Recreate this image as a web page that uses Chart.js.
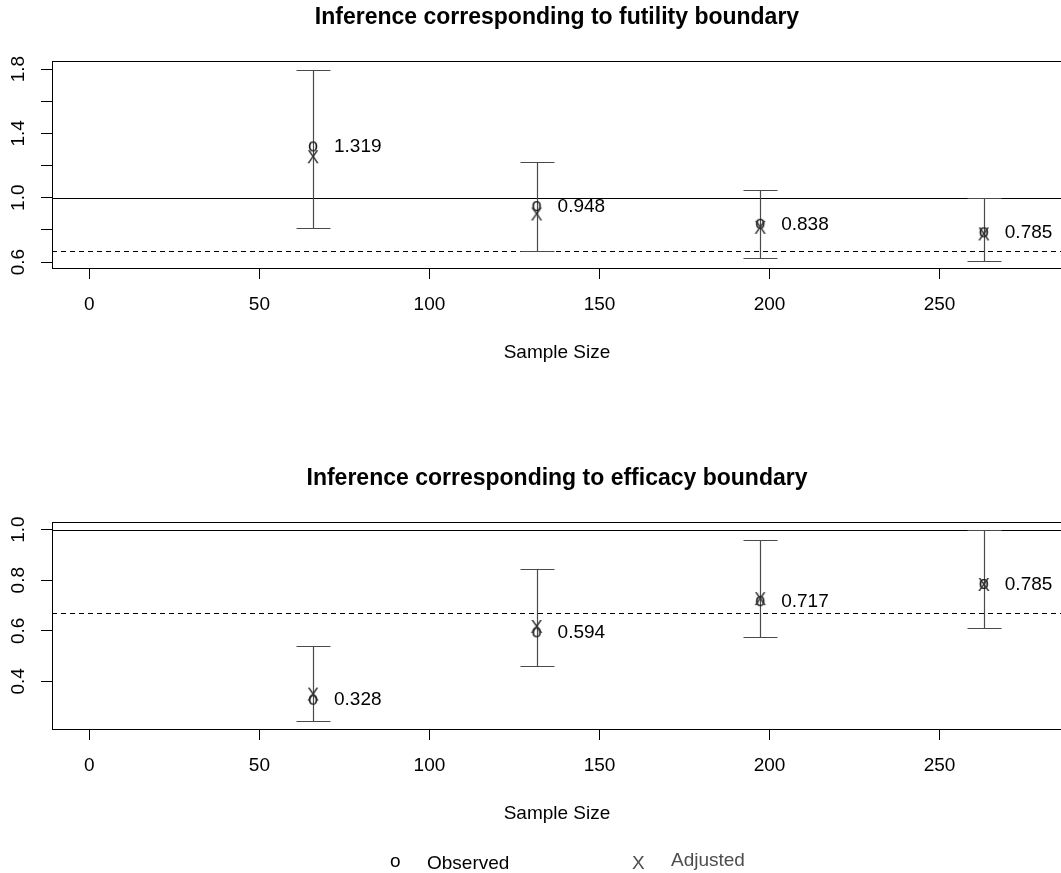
<!DOCTYPE html>
<html>
<head>
<meta charset="utf-8">
<title>Inference at interim boundaries</title>
<script src="https://cdn.jsdelivr.net/npm/chart.js@4/dist/chart.umd.min.js"></script>
<style>
  html, body { margin: 0; padding: 0; background: #fff; overflow: hidden; width: 1061px; height: 873px; }
  #wrap { position: relative; width: 1061px; height: 873px; overflow: hidden; }
  canvas { position: absolute; left: 0; }
  #futility { top: 0; }
  #efficacy { top: 436px; }
  .lg { position: absolute; font: 19px "Liberation Sans", Arial, Helvetica, sans-serif; line-height: 22px; white-space: nowrap; color: #000; }
  .lg.adj { color: #4d4d4d; }
</style>
</head>
<body>
<div id="wrap">
  <canvas id="futility" width="1070" height="436"></canvas>
  <canvas id="efficacy" width="1070" height="437"></canvas>
  <span class="lg" style="left:390px; top:850px;">o</span>
  <span class="lg" style="left:427px; top:852px;">Observed</span>
  <span class="lg adj" style="left:632px; top:852px;">X</span>
  <span class="lg adj" style="left:671px; top:849px;">Adjusted</span>
</div>
<script>
// Sample size at each analysis
const sampleSizes = [65.75, 131.5, 197.25, 263];

// Futility boundary: observed / adjusted estimates and interval limits
const futObserved = [1.319, 0.948, 0.838, 0.785];
const futAdjusted = [1.255, 0.899, 0.816, 0.775];
const futLower    = [0.810, 0.668, 0.623, 0.608];
const futUpper    = [1.795, 1.224, 1.050, 1.000];

// Efficacy boundary: observed / adjusted estimates and interval limits
const effObserved = [0.328, 0.594, 0.717, 0.785];
const effAdjusted = [0.350, 0.617, 0.727, 0.783];
const effLower    = [0.242, 0.462, 0.576, 0.611];
const effUpper    = [0.538, 0.843, 0.958, 1.000];

// Reference values
const nullValue = 1.0;
const thresholdValue = 0.67;

// Axis ticks
const xTicks = [0, 50, 100, 150, 200, 250];
const futYTicks = [0.6, 0.8, 1.0, 1.2, 1.4, 1.6, 1.8];
const futYLabels = [0.6, 1.0, 1.4, 1.8];
const effYTicks = [0.4, 0.6, 0.8, 1.0];
const effYLabels = [0.4, 0.6, 0.8, 1.0];

const FAMILY = '"Liberation Sans", Arial, Helvetica, sans-serif';
const BAR_COLOR = '#4a4a4a';

// Render a character as a point marker image, with its ink centred
function glyph(ch, color, size) {
  const c = document.createElement('canvas');
  let g = c.getContext('2d');
  const font = size + 'px ' + FAMILY;
  g.font = font;
  const m = g.measureText(ch);
  const w = Math.ceil(m.actualBoundingBoxLeft + m.actualBoundingBoxRight) + 2;
  const h = Math.ceil(m.actualBoundingBoxAscent + m.actualBoundingBoxDescent) + 2;
  c.width = w; c.height = h;
  g = c.getContext('2d');
  g.font = font;
  g.fillStyle = color;
  g.textBaseline = 'alphabetic';
  g.fillText(ch, 1 + m.actualBoundingBoxLeft, 1 + m.actualBoundingBoxAscent);
  return c;
}
const observedMark = glyph('o', '#111111', 18);
const adjustedMark = glyph('X', '#333333', 18);

// Frame, reference lines, interval bars, value labels and titles
function panelPlugin(cfg) {
  return {
    id: 'panel',
    beforeDatasetsDraw(chart) {
      const { ctx, chartArea: a, scales: { x, y } } = chart;
      ctx.save();
      ctx.beginPath();
      ctx.rect(a.left, a.top, a.right - a.left, a.bottom - a.top);
      ctx.clip();

      ctx.strokeStyle = '#000';
      ctx.lineWidth = 1;
      const yNull = Math.round(y.getPixelForValue(nullValue)) + 0.5;
      ctx.beginPath(); ctx.moveTo(a.left, yNull); ctx.lineTo(a.right, yNull); ctx.stroke();

      ctx.setLineDash([5, 4]);
      const yThr = Math.round(y.getPixelForValue(thresholdValue)) + 0.5;
      ctx.beginPath(); ctx.moveTo(a.left, yThr); ctx.lineTo(a.right, yThr); ctx.stroke();
      ctx.setLineDash([]);
      ctx.restore();

      // interval bars with end caps
      ctx.save();
      ctx.strokeStyle = BAR_COLOR;
      ctx.lineWidth = 1.2;
      const cap = 17;
      sampleSizes.forEach((n, i) => {
        const px = Math.round(x.getPixelForValue(n)) + 0.5;
        const lo = Math.round(y.getPixelForValue(cfg.lower[i])) + 0.5;
        const hi = Math.round(y.getPixelForValue(cfg.upper[i])) + 0.5;
        ctx.beginPath();
        ctx.moveTo(px, lo); ctx.lineTo(px, hi);
        ctx.moveTo(px - cap, lo); ctx.lineTo(px + cap, lo);
        ctx.moveTo(px - cap, hi); ctx.lineTo(px + cap, hi);
        ctx.stroke();
      });

      // observed value labels
      ctx.fillStyle = '#000';
      ctx.font = '19px ' + FAMILY;
      ctx.textAlign = 'left';
      ctx.textBaseline = 'middle';
      sampleSizes.forEach((n, i) => {
        const px = x.getPixelForValue(n);
        const py = y.getPixelForValue(cfg.observed[i]);
        ctx.fillText(cfg.observed[i].toFixed(3), px + 21, py + 0.5);
      });
      ctx.restore();
    },
    afterDraw(chart) {
      const { ctx, chartArea: a } = chart;
      ctx.save();
      ctx.strokeStyle = '#000';
      ctx.lineWidth = 1;
      ctx.strokeRect(Math.round(a.left) + 0.5, Math.round(a.top) + 0.5,
                     Math.round(a.right - a.left), Math.round(a.bottom - a.top));

      const cx = (a.left + a.right) / 2;
      ctx.fillStyle = '#000';
      ctx.textAlign = 'center';
      ctx.textBaseline = 'middle';
      ctx.font = 'bold 23px ' + FAMILY;
      ctx.fillText(cfg.title, cx, a.top - 43);
      ctx.font = '19px ' + FAMILY;
      ctx.fillText('Sample Size', cx, a.bottom + 85);
      ctx.restore();
    }
  };
}

function makePanel(id, cfg) {
  const has = (list, v) => list.some(t => Math.abs(t - v) < 1e-9);
  return new Chart(document.getElementById(id), {
    type: 'scatter',
    data: {
      datasets: [
        {
          label: 'Adjusted',
          data: sampleSizes.map((n, i) => ({ x: n, y: cfg.adjusted[i] })),
          pointStyle: adjustedMark,
          pointRadius: 6
        },
        {
          label: 'Observed',
          data: sampleSizes.map((n, i) => ({ x: n, y: cfg.observed[i] })),
          pointStyle: observedMark,
          pointRadius: 5
        }
      ]
    },
    options: {
      responsive: false,
      animation: false,
      devicePixelRatio: 1,
      events: [],
      layout: { padding: { top: cfg.padTop, right: 8, left: 0, bottom: 0 } },
      plugins: {
        legend: { display: false },
        tooltip: { enabled: false },
        title: { display: false }
      },
      scales: {
        x: {
          type: 'linear',
          position: 'bottom',
          min: -11,
          max: 286,
          afterBuildTicks: s => { s.ticks = xTicks.map(v => ({ value: v })); },
          afterFit: s => { s.height = cfg.xHeight; },
          border: { display: false },
          grid: { display: true, drawOnChartArea: false, drawTicks: true, tickLength: 11, color: '#000', tickColor: '#000', lineWidth: 1 },
          ticks: {
            autoSkip: false,
            maxRotation: 0,
            minRotation: 0,
            padding: 14,
            color: '#000',
            font: { family: FAMILY, size: 19, lineHeight: 1.2 },
            callback: v => String(v)
          }
        },
        y: {
          type: 'linear',
          position: 'left',
          min: cfg.yMin,
          max: cfg.yMax,
          afterBuildTicks: s => { s.ticks = cfg.yTicks.map(v => ({ value: v })); },
          afterFit: s => { s.width = 52; },
          border: { display: false },
          grid: { display: true, drawOnChartArea: false, drawTicks: true, tickLength: 11, color: '#000', tickColor: '#000', lineWidth: 1 },
          ticks: {
            autoSkip: false,
            minRotation: 90,
            maxRotation: 90,
            crossAlign: 'center',
            padding: 9,
            color: '#000',
            font: { family: FAMILY, size: 19, lineHeight: 1.2 },
            callback: v => has(cfg.yLabels, v) ? v.toFixed(1) : ''
          }
        }
      }
    },
    plugins: [panelPlugin(cfg)]
  });
}

makePanel('futility', {
  title: 'Inference corresponding to futility boundary',
  observed: futObserved, adjusted: futAdjusted, lower: futLower, upper: futUpper,
  yMin: 0.563, yMax: 1.85, yTicks: futYTicks, yLabels: futYLabels,
  padTop: 61, xHeight: 168
});

makePanel('efficacy', {
  title: 'Inference corresponding to efficacy boundary',
  observed: effObserved, adjusted: effAdjusted, lower: effLower, upper: effUpper,
  yMin: 0.212, yMax: 1.031, yTicks: effYTicks, yLabels: effYLabels,
  padTop: 85.7, xHeight: 144
});
</script>
</body>
</html>
